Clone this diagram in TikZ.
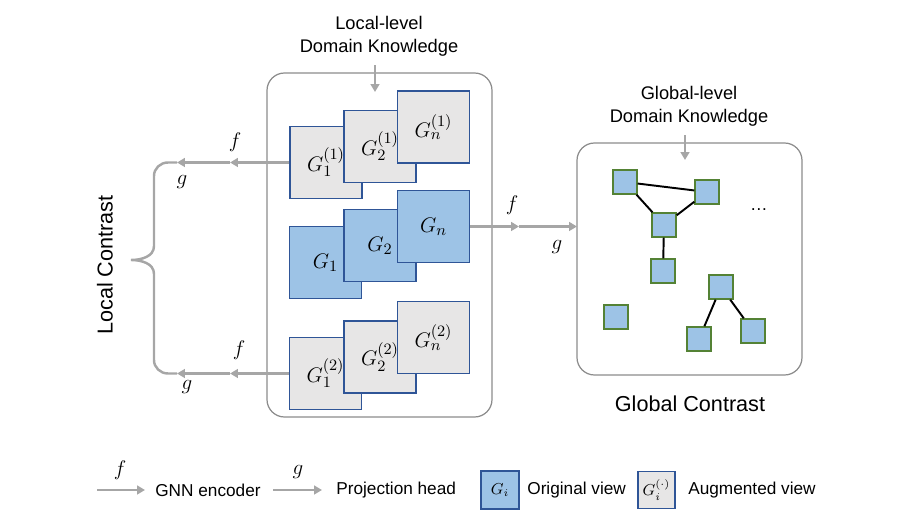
\documentclass[tikz,border=0pt]{standalone}
\usepackage{fontspec}
\setmainfont{Liberation Sans}
\usetikzlibrary{arrows.meta,positioning}
\definecolor{viewblue}{HTML}{9DC3E6}
\definecolor{viewedge}{HTML}{2F5597}
\definecolor{viewgray}{HTML}{E7E6E6}
\definecolor{arrgray}{HTML}{A6A6A6}
\definecolor{framegray}{HTML}{8C8C8C}
\definecolor{nodegreen}{HTML}{548235}
\newcommand{\augview}[2]{$G_{#1}^{(#2)}$\hspace{6pt}}
\tikzset{
    every picture/.style = {
        x = 0.02cm,
        y = -0.02cm
    },
    orig/.style = {
        draw = viewedge,
        fill = viewblue,
        line width = 0.6pt,
        minimum size = 1.44cm,
        inner sep = 0pt,
        font = \fontsize{13}{15}\selectfont
    },
    aug/.style = {
        orig,
        fill = viewgray
    },
    gnode/.style = {
        draw = nodegreen,
        fill = viewblue,
        line width = 0.8pt,
        minimum size = 0.48cm,
        inner sep = 0pt
    },
    frame/.style = {
        draw = framegray,
        line width = 0.7pt,
        rounded corners = 0.35cm
    },
    arr/.style = {
        draw = arrgray,
        line width = 1.4pt,
        -{Triangle[length=4.5pt, width=5pt]}
    },
    bar/.style = {
        draw = arrgray,
        line width = 1.4pt
    },
    lbl/.style = {
        font = \fontsize{10.4}{13}\selectfont,
        align = center
    },
    big/.style = {
        font = \fontsize{12.3}{14}\selectfont
    },
    leg/.style = {
        font = \fontsize{9.8}{12}\selectfont,
        anchor = west,
        inner sep = 0pt
    },
    fg/.style = {
        font = \fontsize{11.5}{13}\selectfont,
        inner sep = 0pt
    }
}

\begin{document}
\begin{tikzpicture}
    \useasboundingbox (0, 0) rectangle (920, 526);

    % local-level frame
    \node[lbl] (loctext) at (379, 36) {Local-level\\Domain Knowledge};
    \draw[frame] (267, 73) rectangle (492, 417);
    \coordinate (loctop) at (375, 92);
    \draw[arr] (loctext.south -| loctop) ++(0, 3) -- (loctop);

    % augmented views (1)
    \node[aug] (a11) at (326, 162.5) {\augview{1}{1}};
    \node[aug] (a12) at (380, 146.5) {\augview{2}{1}};
    \node[aug] (a1n) at (433.5, 127) {\augview{n}{1}};

    % original views
    \node[orig] (o1) at (325.5, 262.5) {$G_1$};
    \node[orig] (o2) at (380, 245.5) {$G_2$};
    \node[orig] (on) at (433.5, 226.5) {$G_n$};

    % augmented views (2)
    \node[aug] (a21) at (325.5, 373.5) {\augview{1}{2}};
    \node[aug] (a22) at (380, 357) {\augview{2}{2}};
    \node[aug] (a2n) at (433.5, 337.5) {\augview{n}{2}};

    % local contrast
    \coordinate (tf) at (230, 162.5);
    \coordinate (tg) at (177, 162.5);
    \coordinate (bf) at (230, 373.5);
    \coordinate (bg) at (177, 373.5);
    \coordinate (tip) at (131, 260);
    \draw[arr] (a11.west) -- (tf);
    \draw[arr] (tf) -- (tg);
    \draw[arr] (a21.west) -- (bf);
    \draw[arr] (bf) -- (bg);
    \draw[bar] (tg) -- (168, 162.5) to[out=180, in=90] (154, 176) -- (154, 246)
        to[out=-90, in=0] (tip) to[out=0, in=90] (154, 274) -- (154, 360)
        to[out=-90, in=180] (168, 373.5) -- (bg);
    \node[fg] (tfl) at (235, 142) {$f$};
    \node[fg] (tgl) at (182, 182) {$g$};
    \node[fg] (bfl) at (239, 350) {$f$};
    \node[fg] (bgl) at (187, 387) {$g$};
    \node[big, rotate=90] (loccon) at (105, 265) {Local Contrast};

    % global-level frame
    \node[lbl] (glotext) at (689, 106) {Global-level\\Domain Knowledge};
    \draw[frame] (577, 143) rectangle (802, 375);
    \coordinate (glotop) at (685, 160);
    \draw[arr] (glotext.south -| glotop) ++(0, 3) -- (glotop);
    \coordinate (glowest) at (577, 226.5);
    \coordinate (mf) at (519, 226.5);
    \draw[arr] (on.east) -- (mf);
    \draw[arr] (mf) -- (glowest);
    \node[fg] (mfl) at (512, 205) {$f$};
    \node[fg] (mgl) at (557, 247) {$g$};

    % global graph
    \node[gnode] (ga) at (625, 182) {};
    \node[gnode] (gb) at (707, 192) {};
    \node[gnode] (gc) at (664, 225) {};
    \node[gnode] (gd) at (663, 271) {};
    \node[gnode] (ge) at (616, 317) {};
    \node[gnode] (gf) at (721, 287) {};
    \node[gnode] (gg) at (699, 339) {};
    \node[gnode] (gh) at (753, 331) {};
    \draw[line width=1.1pt] (ga) -- (gb);
    \draw[line width=1.1pt] (ga) -- (gc);
    \draw[line width=1.1pt] (gc) -- (gb);
    \draw[line width=1.1pt] (gc) -- (gd);
    \draw[line width=1.1pt] (gf) -- (gg);
    \draw[line width=1.1pt] (gf) -- (gh);
    \node[font=\fontsize{10}{12}\selectfont] (gdots) at (759, 210) {…};
    \node[big] (glocon) at (690, 404) {Global Contrast};

    % legend
    \coordinate (l1s) at (97, 490);
    \coordinate (l1e) at (145, 490);
    \draw[arr] (l1s) -- (l1e);
    \node[fg] (l1f) at (120, 470) {$f$};
    \node[leg] (l1t) at (155, 490) {GNN encoder};
    \coordinate (l2s) at (273, 490);
    \coordinate (l2e) at (322, 490);
    \draw[arr] (l2s) -- (l2e);
    \node[fg] (l2g) at (298, 472) {$g$};
    \node[leg] (l2t) at (336, 490) {Projection head};
    \node[orig, minimum size=0.76cm, font=\small] (l3box) at (500, 490) {$G_i$};
    \node[leg] (l3t) at (527, 490) {Original view};
    \node[aug, minimum size=0.74cm, font=\small] (l4box) at (656.5, 490) {$G_i^{(\cdot)}$};
    \node[leg] (l4t) at (688, 490) {Augmented view};
\end{tikzpicture}
\end{document}
